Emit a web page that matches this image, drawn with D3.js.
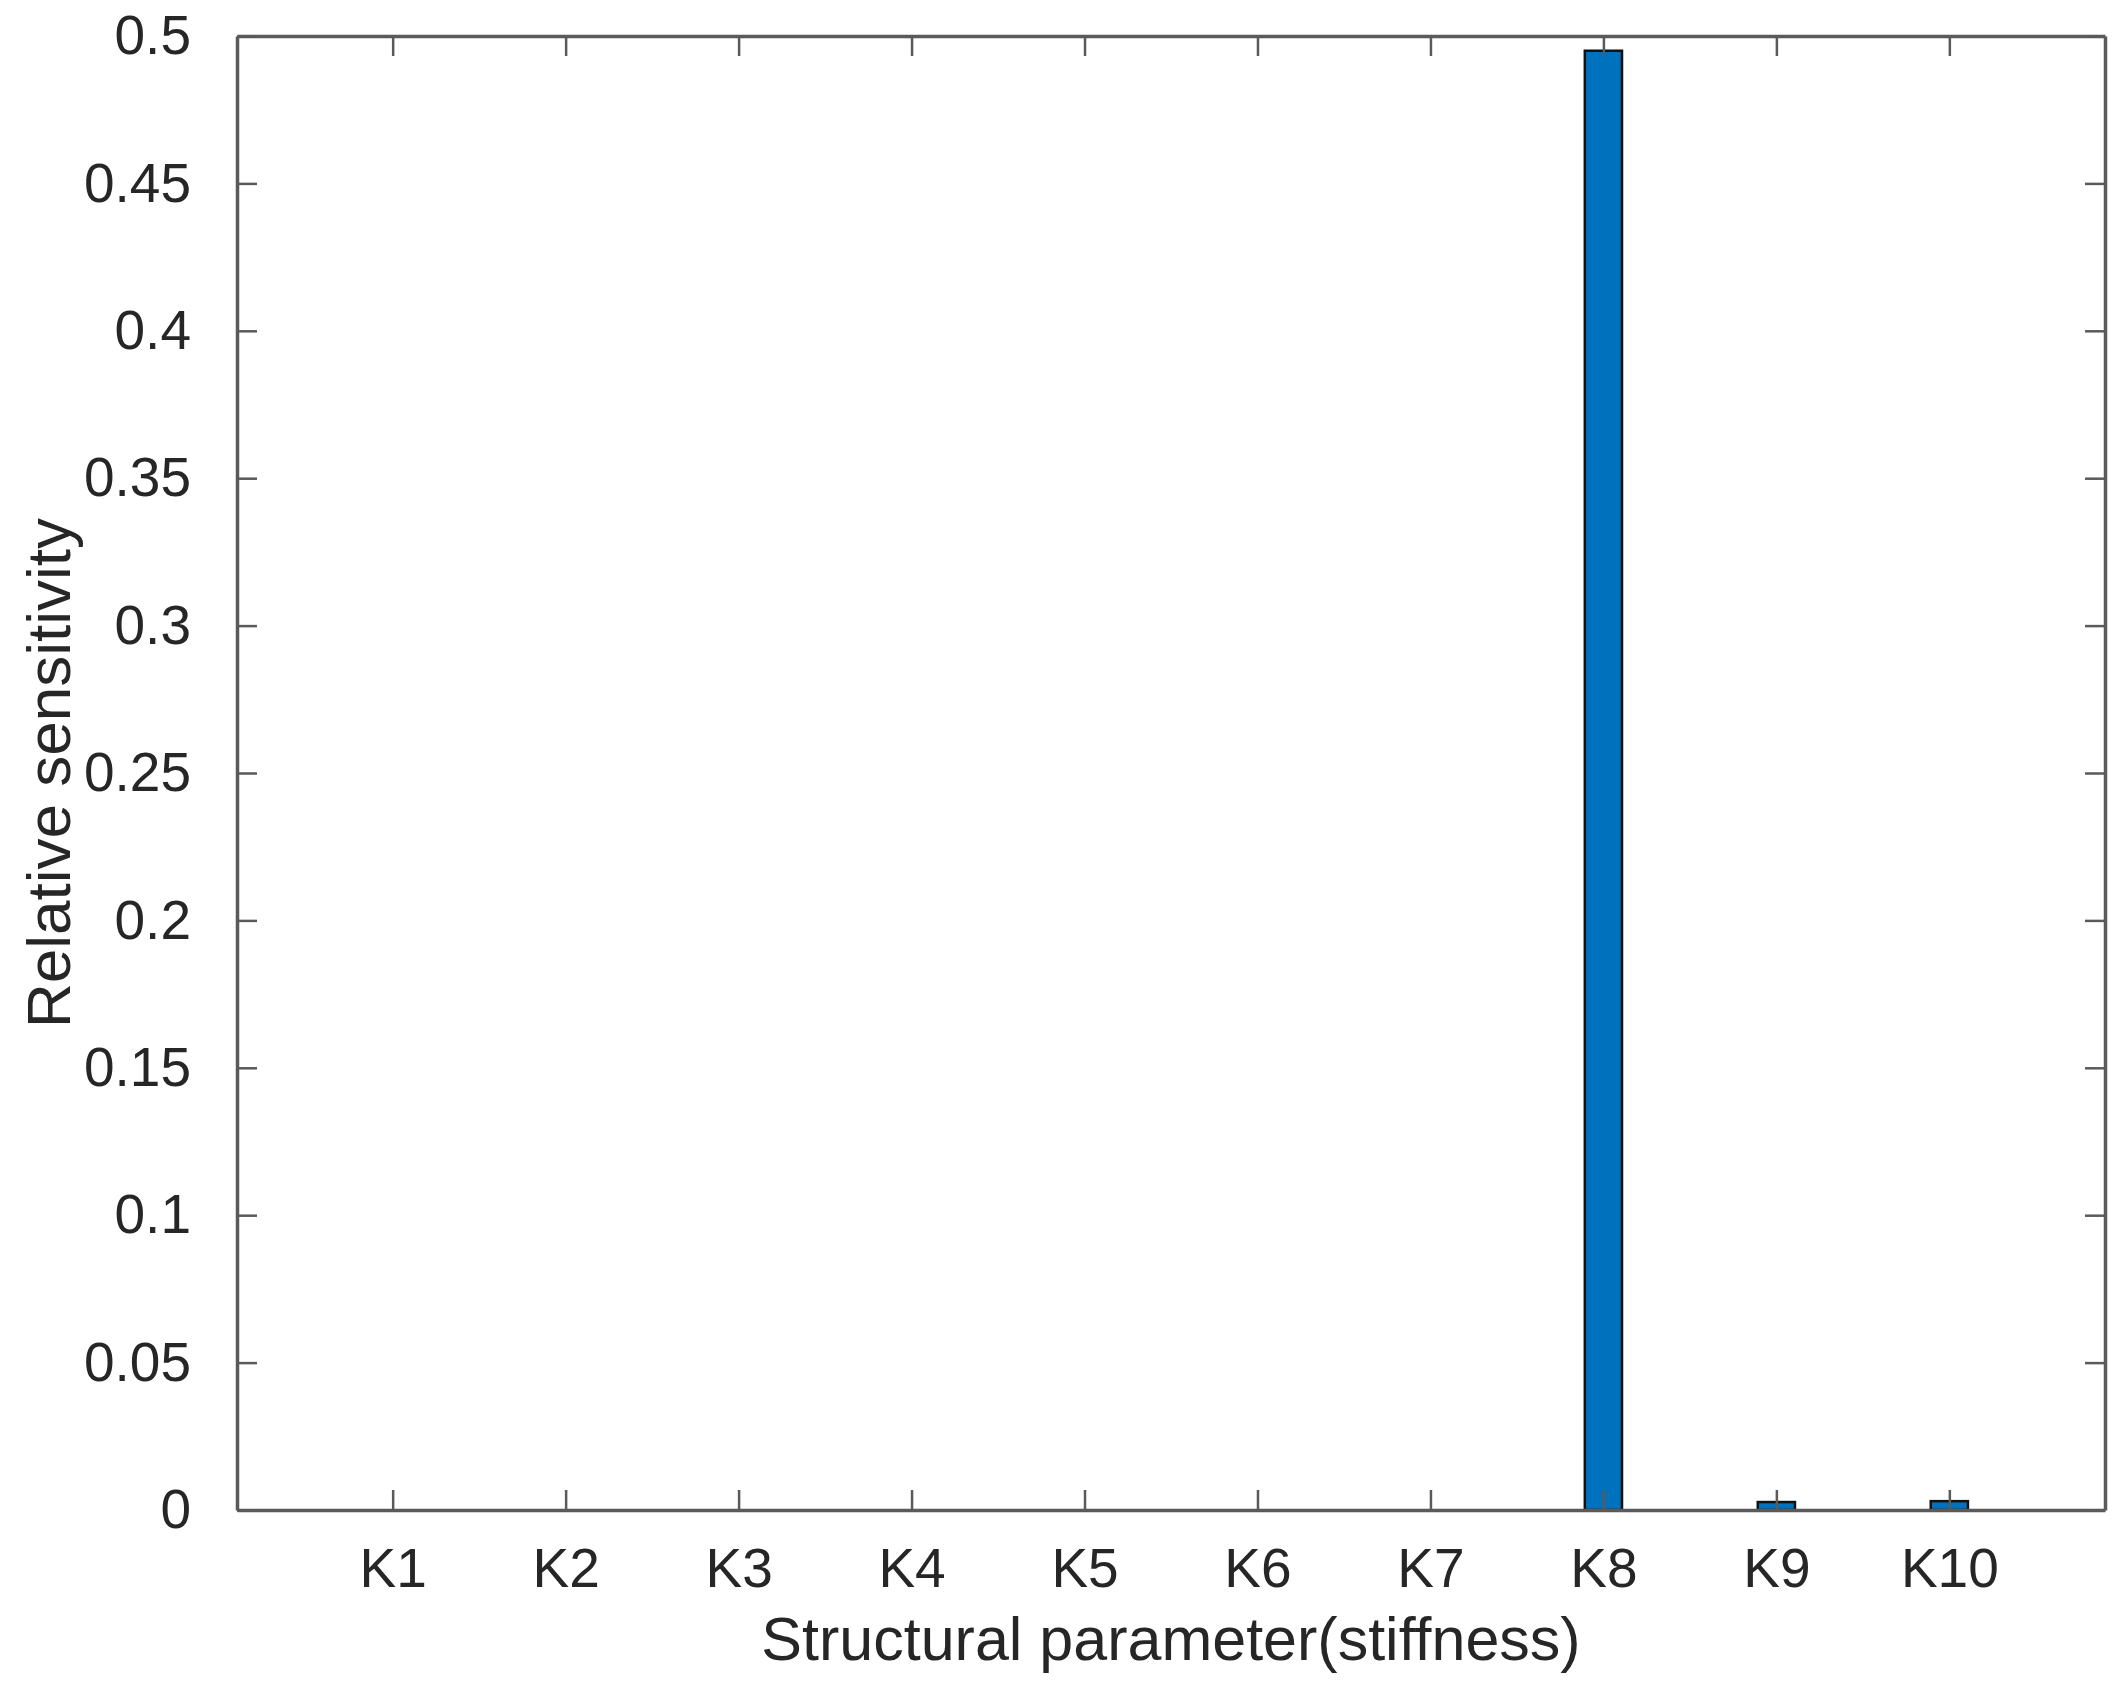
<!DOCTYPE html>
<html><head><meta charset="utf-8">
<script src="https://cdn.jsdelivr.net/npm/d3@7"></script>
<style>html,body{margin:0;padding:0;background:#fff;}svg{display:block;}</style>
</head><body>
<script>
const categories = ["K1","K2","K3","K4","K5","K6","K7","K8","K9","K10"];
const values = [0,0,0,0,0,0,0,0.495,0.0027,0.003];
const yTicks = [0,0.05,0.1,0.15,0.2,0.25,0.3,0.35,0.4,0.45,0.5];
const xLabel = "Structural parameter(stiffness)";
const yLabel = "Relative sensitivity";

const W = 2123, H = 1703;
const L = 237, R = 2105, T = 36, B = 1510;
const svg = d3.select("body").append("svg").attr("width", W).attr("height", H);
const x = d3.scaleLinear().domain([0.1, 10.9]).range([L, R]);
const y = d3.scaleLinear().domain([0, 0.5]).range([B, T]);
const barW = (x(2) - x(1)) * 0.215;
const font = "'Liberation Sans', Arial, Helvetica, sans-serif";
const axisCol = "#5a5a5a", textCol = "#262626";

svg.append("g").selectAll("rect").data(values).join("rect")
  .attr("x", (d, i) => x(i + 1) - barW / 2)
  .attr("width", barW)
  .attr("y", d => y(d))
  .attr("height", d => y(0) - y(d))
  .attr("fill", "#0072BD").attr("stroke", "#111").attr("stroke-width", 2.5)
  .attr("visibility", d => d > 0 ? "visible" : "hidden");

const tickLen = 20;
function styleAxis(g) {
  g.select(".domain").attr("stroke", axisCol).attr("stroke-width", 3.5);
  g.selectAll(".tick line").attr("stroke", axisCol).attr("stroke-width", 2.5);
  g.selectAll(".tick text").attr("fill", textCol).attr("font-family", font).attr("font-size", 55);
}
const xIdx = categories.map((c, i) => i + 1);
const gxB = svg.append("g").attr("transform", `translate(0,${B})`)
  .call(d3.axisBottom(x).tickValues(xIdx).tickFormat((d) => categories[d - 1]).tickSizeInner(-tickLen).tickSizeOuter(0).tickPadding(38));
styleAxis(gxB);
const gxT = svg.append("g").attr("transform", `translate(0,${T})`)
  .call(d3.axisTop(x).tickValues(xIdx).tickFormat("").tickSizeInner(-tickLen).tickSizeOuter(0));
styleAxis(gxT);
const gyL = svg.append("g").attr("transform", `translate(${L},0)`)
  .call(d3.axisLeft(y).tickValues(yTicks).tickFormat(d => d3.format("")(+d.toFixed(2))).tickSizeInner(-tickLen).tickSizeOuter(0).tickPadding(46));
styleAxis(gyL);
const gyR = svg.append("g").attr("transform", `translate(${R},0)`)
  .call(d3.axisRight(y).tickValues(yTicks).tickFormat("").tickSizeInner(-tickLen).tickSizeOuter(0));
styleAxis(gyR);

svg.append("text").attr("x", (L + R) / 2).attr("y", 1660)
  .attr("text-anchor", "middle").attr("font-family", font).attr("font-size", 61)
  .attr("fill", textCol).text(xLabel);
svg.append("text").attr("transform", `translate(70,${(T + B) / 2}) rotate(-90)`)
  .attr("text-anchor", "middle").attr("font-family", font).attr("font-size", 62)
  .attr("fill", textCol).text(yLabel);
</script>
</body></html>
